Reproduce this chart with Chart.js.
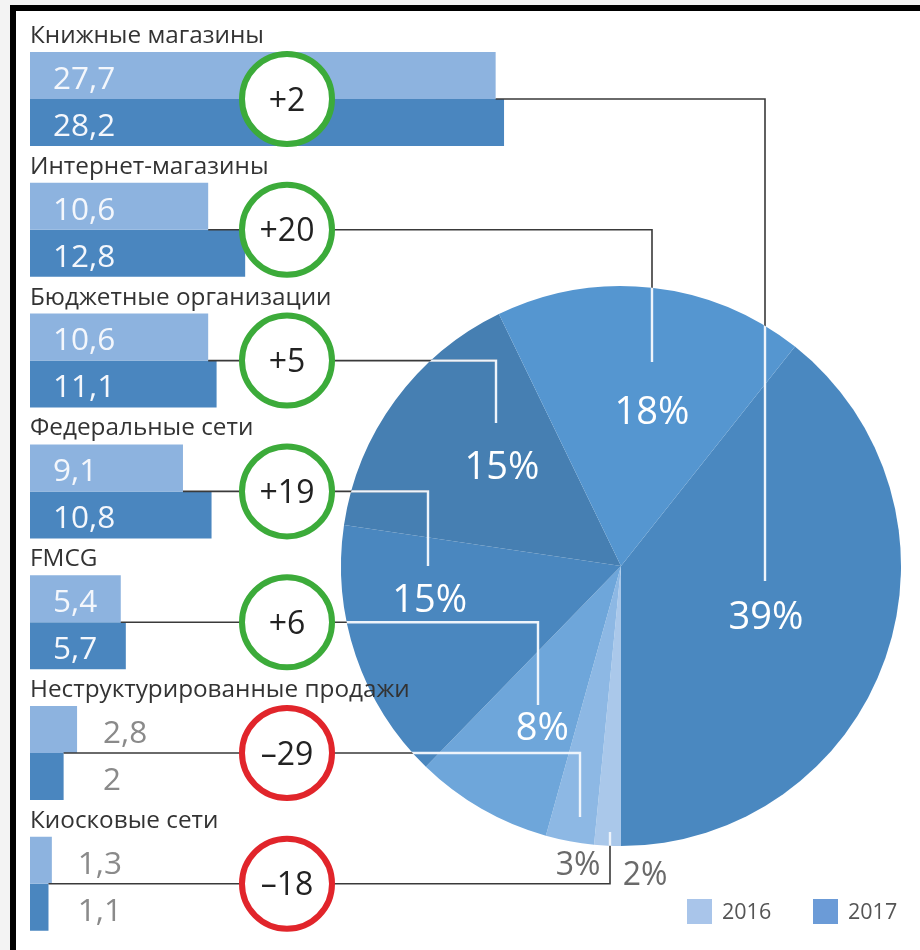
<!DOCTYPE html>
<html><head><meta charset="utf-8">
<script src="https://cdn.jsdelivr.net/npm/chart.js@4.4.0/dist/chart.umd.min.js"></script>
<style>
html,body{margin:0;padding:0;background:#f3f3f3;width:920px;height:950px;overflow:hidden;}
#frame{position:absolute;left:10px;top:5px;width:920px;height:950px;border-left:6px solid #000;border-top:6px solid #000;background:#fff;}
canvas{position:absolute;left:0;top:0;}
</style></head><body>
<div id="frame"></div>
<canvas id="pie" width="920" height="950" style="width:920px;height:950px"></canvas>
<canvas id="bars" width="920" height="950" style="width:920px;height:950px"></canvas>
<script>
// ---- data ----
const categories = ['Книжные магазины','Интернет-магазины','Бюджетные организации','Федеральные сети','FMCG','Неструктурированные продажи','Киосковые сети'];
const values2016 = [27.7, 10.6, 10.6, 9.1, 5.4, 2.8, 1.3];
const values2017 = [28.2, 12.8, 11.1, 10.8, 5.7, 2.0, 1.1];
const changes = [2, 20, 5, 19, 6, -29, -18];
const seriesLabels = ['2016', '2017'];

// ---- styles / layout ----
const FONT = '"Open Sans", sans-serif';
const barColors = ['#8db3df', '#4a86bf'];
const legendColors = ['#a9c5ea', '#6b9bd7'];
const pieColors = ['#4a88c0', '#5596d0', '#467fb2', '#4a87bf', '#6ea6da', '#8db8e4', '#aac8ea'];
// slice order clockwise from the top-right start
const pieOrder = [0, 6, 5, 4, 3, 2, 1];
const PIE_PAD = {left: 341, right: 19, top: 286, bottom: 104};
const BAR_PAD = {left: 30, right: 49.5, top: 33.6, bottom: 0.8};
const X_MAX = 50;
const CIRCLE_X = 287, CIRCLE_R = 45, CIRCLE_W = 6;
const connectorEnds = [[765, 581], [652, 362], [496, 423], [428, 566], [538, 705], [580, 817], [610, 832]];
const labelPolar = [[108.7, 153], [11.2, 159], [-49.7, 156], [-99.5, 194], [-153.9, 179], [-171.8, 301], [175.5, 308]];

const fmt = v => String(v).replace('.', ',');
const sum2017 = values2017.reduce((a, b) => a + b, 0);

const pieLabels = {
  id: 'pieLabels',
  afterDatasetsDraw(chart) {
    const ctx = chart.ctx;
    const arc = chart.getDatasetMeta(0).data[0];
    const cx = arc.x, cy = arc.y, r = arc.outerRadius;
    ctx.save();
    ctx.textAlign = 'center';
    ctx.textBaseline = 'alphabetic';
    values2017.forEach((v, i) => {
      const [deg, rad] = labelPolar[i];
      const a = deg * Math.PI / 180;
      const x = cx + rad * Math.sin(a), y = cy - rad * Math.cos(a);
      const outside = rad > r;
      const size = outside ? 32 : 38;
      ctx.font = size + 'px ' + FONT;
      ctx.fillStyle = outside ? '#6a6a6a' : '#ffffff';
      ctx.fillText(Math.round(v / sum2017 * 100) + '%', x, y + size * 0.36);
    });
    ctx.restore();
  }
};

const pieChart = new Chart(document.getElementById('pie'), {
  type: 'pie',
  data: {
    labels: pieOrder.map(i => categories[i]),
    datasets: [{
      data: pieOrder.map(i => values2017[i]),
      backgroundColor: pieOrder.map(i => pieColors[i]),
      borderWidth: 0
    }]
  },
  options: {
    responsive: false, animation: false,
    rotation: 180 - 360 * values2017[0] / sum2017,
    layout: {padding: PIE_PAD},
    plugins: {legend: {display: false}, tooltip: {enabled: false}}
  },
  plugins: [pieLabels]
});

const overlay = {
  id: 'overlay',
  afterDatasetsDraw(chart) {
    const ctx = chart.ctx;
    const xs = chart.scales.x, ys = chart.scales.y;
    const metas = [chart.getDatasetMeta(0), chart.getDatasetMeta(1)];
    const arc = pieChart.getDatasetMeta(0).data[0];
    const pcx = arc.x, pcy = arc.y, pr = arc.outerRadius;

    // connectors
    const paths = categories.map((c, i) => {
      const y = ys.getPixelForValue(i);
      const x0 = xs.getPixelForValue(Math.min(values2016[i], values2017[i]));
      const [ex, ey] = connectorEnds[i];
      return [[x0, y], [ex, y], [ex, ey]];
    });
    const strokePaths = () => paths.forEach(p => {
      ctx.beginPath();
      ctx.moveTo(p[0][0], p[0][1]);
      for (let k = 1; k < p.length; k++) ctx.lineTo(p[k][0], p[k][1]);
      ctx.stroke();
    });
    ctx.save();
    ctx.lineJoin = 'miter';
    ctx.strokeStyle = '#3a3a3a'; ctx.lineWidth = 1.6;
    strokePaths();
    ctx.beginPath(); ctx.arc(pcx, pcy, pr, 0, Math.PI * 2); ctx.clip();
    ctx.strokeStyle = '#eef4fb'; ctx.lineWidth = 2.4;
    strokePaths();
    ctx.restore();

    // change circles
    ctx.save();
    changes.forEach((c, i) => {
      const y = ys.getPixelForValue(i);
      ctx.beginPath();
      ctx.arc(CIRCLE_X, y, CIRCLE_R, 0, Math.PI * 2);
      ctx.fillStyle = '#ffffff'; ctx.fill();
      ctx.lineWidth = CIRCLE_W;
      ctx.strokeStyle = c >= 0 ? '#3cab3a' : '#e1252b';
      ctx.stroke();
      ctx.font = '32px ' + FONT;
      ctx.fillStyle = '#222';
      ctx.textAlign = 'center'; ctx.textBaseline = 'alphabetic';
      ctx.fillText((c >= 0 ? '+' : '–') + Math.abs(c), CIRCLE_X, y + 32 * 0.36);
    });
    ctx.restore();

    // category labels
    ctx.save();
    ctx.font = '24.3px ' + FONT;
    ctx.fillStyle = '#333';
    ctx.textAlign = 'left'; ctx.textBaseline = 'alphabetic';
    categories.forEach((c, i) => {
      ctx.fillText(c, chart.chartArea.left, ys.getPixelForValue(i) - 56);
    });
    ctx.restore();

    // value labels
    ctx.save();
    ctx.textAlign = 'left'; ctx.textBaseline = 'alphabetic';
    const size = 31.5;
    ctx.font = size + 'px ' + FONT;
    categories.forEach((c, i) => {
      const vals = [values2016[i], values2017[i]];
      const maxEnd = xs.getPixelForValue(Math.max(...vals));
      const inside = xs.getPixelForValue(Math.min(...vals)) - xs.getPixelForValue(0) > 70;
      vals.forEach((v, d) => {
        const bar = metas[d].data[i];
        const x = inside ? chart.chartArea.left + 23 : maxEnd + 26;
        ctx.fillStyle = inside ? '#f4f7fc' : '#8a8a8a';
        ctx.fillText(fmt(v), x, bar.y + size * 0.36 + 2);
      });
    });
    ctx.restore();

    // legend
    ctx.save();
    ctx.font = '21.5px ' + FONT;
    ctx.textAlign = 'left'; ctx.textBaseline = 'alphabetic';
    const lx = [687, 813];
    seriesLabels.forEach((s, d) => {
      ctx.fillStyle = legendColors[d];
      ctx.fillRect(lx[d], 899, 25, 25);
      ctx.fillStyle = '#555';
      ctx.fillText(s, lx[d] + 35, 919);
    });
    ctx.restore();
  }
};

const barChart = new Chart(document.getElementById('bars'), {
  type: 'bar',
  data: {
    labels: categories,
    datasets: seriesLabels.map((s, d) => ({
      label: s,
      data: d === 0 ? values2016 : values2017,
      backgroundColor: barColors[d],
      borderWidth: 0,
      categoryPercentage: 0.7187,
      barPercentage: 1
    }))
  },
  options: {
    indexAxis: 'y',
    responsive: false, animation: false,
    layout: {padding: BAR_PAD},
    scales: {
      x: {display: false, min: 0, max: X_MAX},
      y: {display: false, offset: true}
    },
    plugins: {legend: {display: false}, tooltip: {enabled: false}}
  },
  plugins: [overlay]
});
</script>
</body></html>
